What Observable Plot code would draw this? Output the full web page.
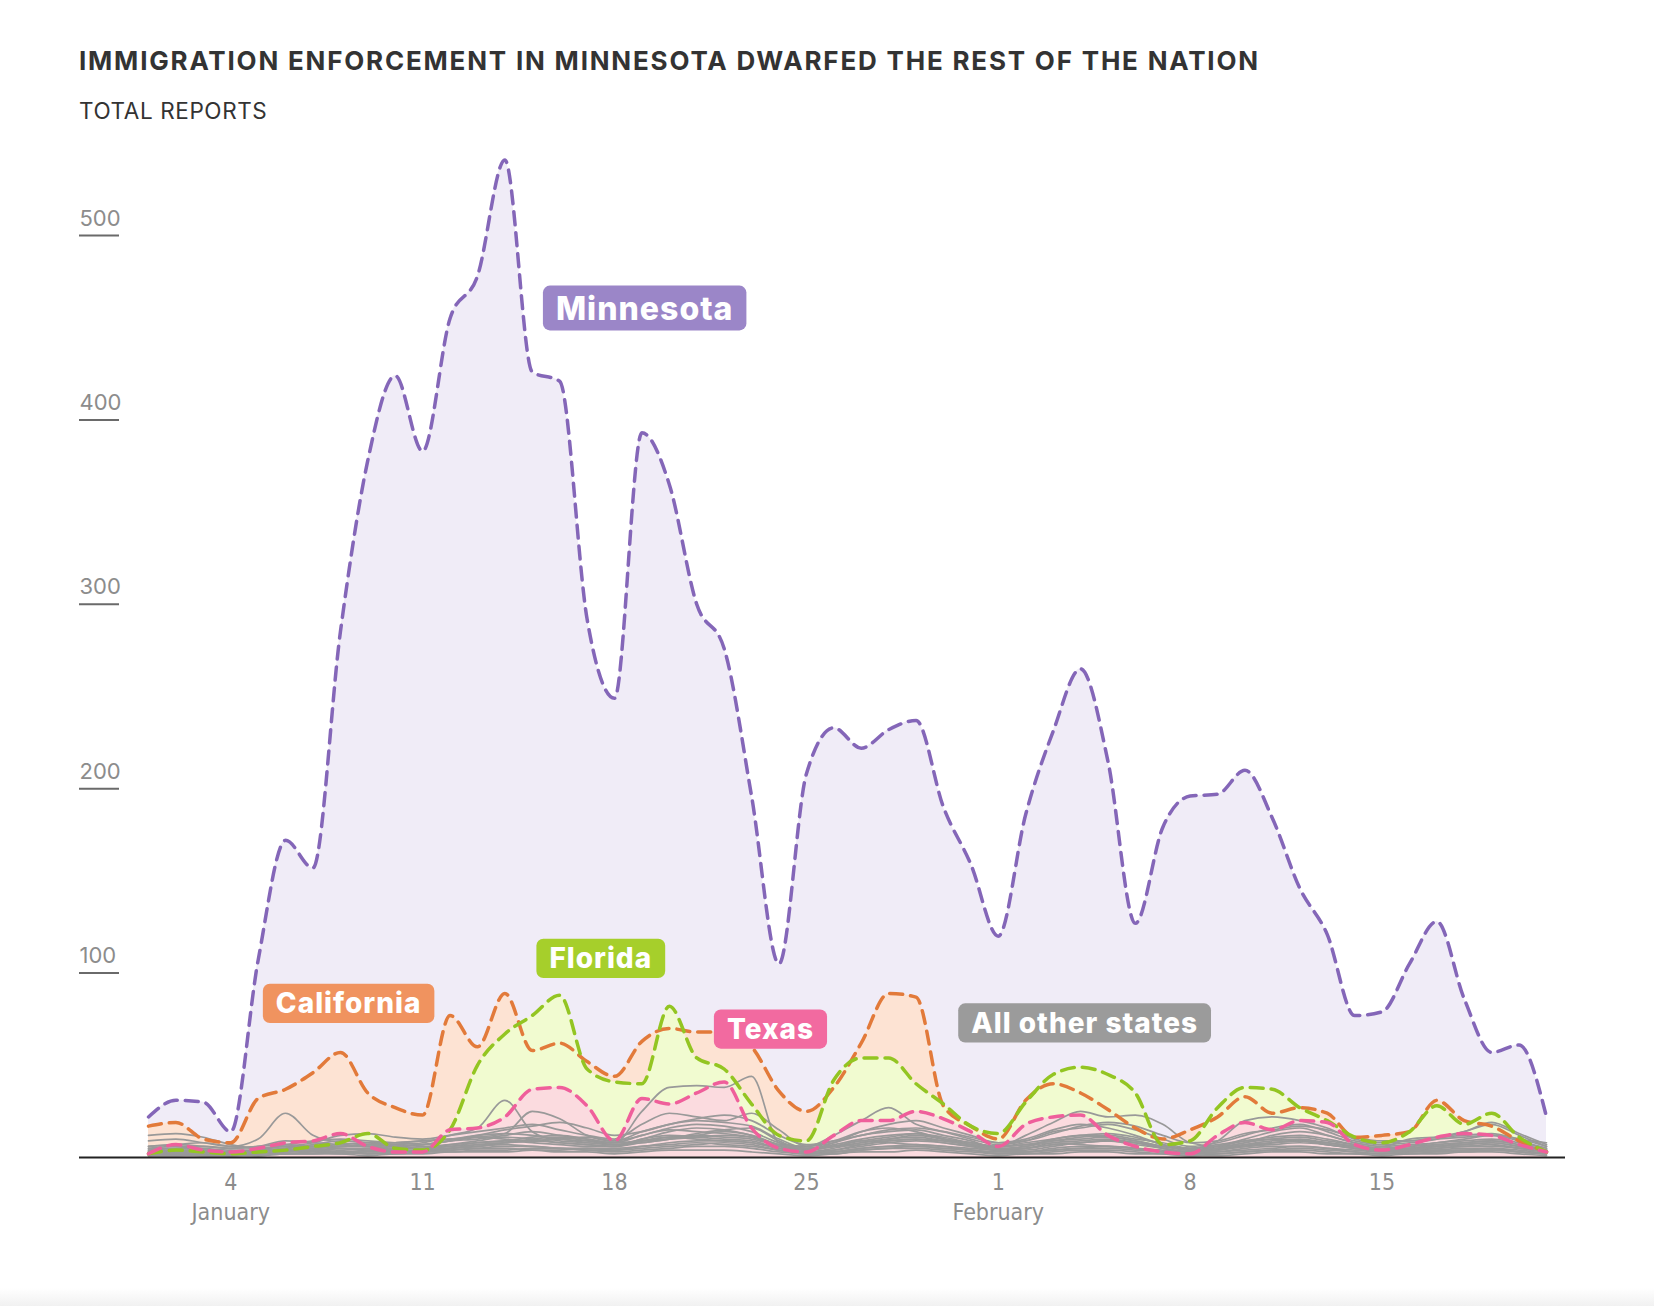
<!DOCTYPE html>
<html><head><meta charset="utf-8">
<script src="https://cdn.jsdelivr.net/npm/d3@7"></script>
<script src="https://cdn.jsdelivr.net/npm/@observablehq/plot@0.6"></script>
<style>
html,body{margin:0;padding:0;background:#fff;}
#wrap{position:relative;width:1654px;height:1306px;overflow:hidden;background:#fff;}
#title{position:absolute;left:79px;top:48px;font-family:Inter,"Noto Sans",sans-serif;font-weight:700;font-size:26px;line-height:1;letter-spacing:1.8px;color:#333;white-space:nowrap;}
#sub{position:absolute;left:79px;top:100px;font-family:Inter,"Noto Sans",sans-serif;font-size:22.5px;line-height:1;color:#333;letter-spacing:0.6px;white-space:nowrap;}
#chart{position:absolute;left:0;top:140px;}
#shade{position:absolute;left:0;bottom:0;width:1654px;height:18px;background:linear-gradient(#fff,#f1f1f1);}
.xlab text{font-stretch:condensed;}
.lbl text{letter-spacing:1px;}
</style></head><body>
<div id="wrap">
<div id="title">IMMIGRATION ENFORCEMENT IN MINNESOTA DWARFED THE REST OF THE NATION</div>
<div id="sub">TOTAL REPORTS</div>
<div id="chart"></div>
<div id="shade"></div>
</div>
<script>
// Daily totals, Jan 1 – Feb 21
const startDate = "2026-01-01";
const minnesota = [22,31,30,14,107,172,157,285,378,424,383,455,478,541,426,421,292,249,393,365,300,276,196,105,208,233,222,232,237,190,159,120,186,231,265,215,127,179,196,197,210,184,146,121,77,79,105,128,86,57,61,22];
const california = [17,19,10,8,32,37,46,57,35,27,23,77,60,89,58,62,52,44,63,70,68,68,60,36,25,38,62,89,87,28,17,10,31,40,35,26,16,10,15,22,33,24,27,24,11,12,14,31,20,17,9,3];
const florida = [2,4,3,2,3,4,6,8,13,5,4,15,50,67,77,88,48,41,40,82,54,48,29,12,9,42,54,54,40,29,17,13,30,45,49,45,35,7,9,27,38,37,27,20,11,8,14,28,18,24,11,3];
const texas = [2,7,4,3,5,8,9,13,6,3,3,15,16,22,37,38,28,9,32,29,35,41,16,5,3,12,20,20,25,21,14,6,18,22,23,12,6,3,2,12,19,15,20,19,7,4,7,11,13,12,7,3];
const otherStates = ["IL","NY","NJ","GA","NC","AZ","CO","WA","OR","PA","MA","OH","MI","VA","TN","LA","MD","NV"];
const otherValues = [
  [4,5,6,5,6,7,6,6,7,8,9,10,12,13,12,10,9,8,25,38,39,38,44,8,5,6,8,10,12,10,8,6,8,10,12,11,9,6,5,7,9,10,9,8,6,5,6,7,8,9,7,4],
  [6,7,6,5,6,9,8,7,6,7,8,12,16,31,14,9,8,7,10,14,16,15,12,7,6,9,14,16,14,10,7,6,12,19,25,22,23,18,8,6,8,12,14,12,8,6,7,8,10,12,9,5],
  [9,10,8,6,10,24,12,8,7,6,7,9,11,13,25,21,12,9,12,16,18,17,14,8,6,12,20,27,18,14,10,7,9,14,16,18,15,10,6,8,12,16,18,14,9,7,8,10,14,18,12,6],
  [12,13,11,7,5,6,8,12,13,11,10,12,14,16,18,15,12,10,18,24,22,20,24,15,6,8,14,18,20,16,12,8,10,15,18,16,12,7,5,9,20,22,20,16,10,8,9,11,14,19,13,7],
  [3,4,4,3,4,6,5,4,5,6,7,9,10,12,14,12,10,8,12,15,14,13,11,6,4,8,12,14,15,12,9,5,6,10,12,13,11,7,4,6,10,14,16,12,8,6,10,11,12,13,10,8],
  [5,6,5,4,4,5,6,7,8,8,9,10,11,10,9,10,11,9,14,18,20,19,17,10,5,7,10,12,13,11,8,6,7,9,11,12,10,8,5,6,9,11,12,10,7,5,6,8,9,10,8,5],
  [2,3,3,2,3,4,4,3,4,5,5,6,7,8,9,8,7,6,9,11,12,11,10,6,3,5,8,10,11,9,7,4,5,8,9,10,8,5,3,4,7,9,10,8,6,4,5,6,7,8,6,4],
  [4,3,2,2,3,5,6,5,4,3,4,5,6,8,10,11,9,7,8,10,12,14,12,7,4,6,9,8,7,6,5,4,6,8,7,6,5,4,3,5,6,8,9,7,5,4,5,7,8,7,5,3],
  [1,2,2,1,2,3,3,2,3,3,4,4,5,6,6,5,5,4,6,7,8,7,6,4,2,3,5,6,7,6,4,3,3,5,6,6,5,3,2,3,4,5,6,5,4,3,3,4,5,5,4,2],
  [3,3,4,3,3,4,5,6,6,5,5,6,8,9,8,7,6,6,10,12,11,10,9,5,3,4,7,9,10,8,6,4,5,7,8,9,8,5,3,4,6,8,9,7,5,4,4,5,6,7,5,3],
  [2,2,1,1,2,2,3,3,2,2,3,3,4,4,5,5,4,3,4,5,6,6,5,3,2,2,4,5,5,4,3,2,2,3,4,4,3,2,1,2,3,4,4,3,2,2,2,3,3,4,3,2],
  [1,1,2,2,1,2,2,3,3,4,3,4,5,5,4,4,5,5,6,8,9,9,8,5,2,3,4,5,6,5,4,2,3,4,5,5,4,3,2,3,5,6,6,5,3,2,3,4,4,5,3,2],
  [2,2,3,2,2,3,4,3,2,3,4,5,6,7,6,5,4,4,5,6,7,8,7,4,2,3,5,6,6,5,4,3,3,4,5,6,5,3,2,2,3,4,5,4,3,2,3,3,4,4,3,2],
  [1,1,1,1,1,2,2,2,1,2,2,3,3,3,4,3,3,2,3,4,4,4,3,2,1,2,3,3,4,3,2,1,2,2,3,3,2,2,1,1,2,3,3,2,2,1,2,2,3,3,2,1],
  [6,7,8,6,5,7,9,10,9,8,7,9,12,15,17,19,16,12,14,18,21,23,20,12,7,9,12,15,16,14,11,8,9,13,17,19,17,12,8,9,13,15,17,15,11,9,9,10,11,12,10,6],
  [3,4,3,3,4,5,7,9,8,6,5,7,9,11,10,8,7,6,8,10,13,15,16,9,4,6,9,11,13,10,8,6,7,9,10,11,9,6,4,5,8,10,11,9,7,5,5,6,8,9,7,4],
  [2,3,3,3,2,3,4,5,5,4,4,5,7,8,9,10,8,7,9,11,10,9,8,5,3,4,6,8,9,8,6,4,4,6,8,9,7,5,3,4,6,7,8,7,5,3,4,5,6,6,5,3],
  [5,5,4,3,3,4,5,6,7,7,6,7,8,9,11,12,10,8,9,10,11,12,11,7,5,6,7,9,10,9,7,5,5,7,8,9,8,6,4,5,7,8,9,8,6,4,4,6,7,8,6,4]
];
const yTicks = [100, 200, 300, 400, 500];
const xTickDates = ["2026-01-04","2026-01-11","2026-01-18","2026-01-25","2026-02-01","2026-02-08","2026-02-15"];
const xTickLabels = ["4\nJanuary","11","18","25","1\nFebruary","8","15"];
const labelNames = ["Minnesota","California","Florida","Texas","All other states"];
const labelDays = [18.1, 7.3, 16.5, 22.69, 34.15];
const labelValues = [460, 83, 107.4, 69.1, 72.4];
const labelColors = ["#9b86c8","#f0935f","#a6cf2b","#f26aa0","#9b9b9b"];

// ---- build tidy tables
const DAY = 864e5;
const t0 = new Date(startDate + "T00:00:00Z").getTime();
const dateOf = i => new Date(t0 + i * DAY);
const series = (arr, state) => arr.map((v, i) => ({date: dateOf(i), value: v, state}));
const mn = series(minnesota, "MN"), ca = series(california, "CA"), fl = series(florida, "FL"), tx = series(texas, "TX");
const others = otherValues.flatMap((arr, k) => series(arr, otherStates[k]));
const xTicks = xTickDates.map((d, i) => ({date: new Date(d + "T00:00:00Z"), label: xTickLabels[i]}));
const labels = labelNames.map((n, i) => ({name: n, date: new Date(t0 + labelDays[i] * DAY), value: labelValues[i], color: labelColors[i]}));

const curve = "monotone-x";
const dash = {x: "date", y: "value", curve, strokeWidth: 3.5, strokeDasharray: "13,8"};
const area = {x: "date", y: "value", curve};
const sansFont = "Inter, 'Noto Sans', sans-serif";
const condFont = "'Liberation Sans Narrow', 'DejaVu Sans Condensed', 'Roboto Condensed', 'Noto Sans', sans-serif";

const svg = Plot.plot({
  width: 1654, height: 1100,
  marginLeft: 148, marginRight: 108, marginTop: 95, marginBottom: 83,
  style: {fontFamily: sansFont, background: "transparent"},
  x: {type: "utc", domain: [dateOf(0), dateOf(51)], axis: null},
  y: {domain: [0, 500], axis: null},
  marks: [
    Plot.areaY(mn, {...area, fill: "#f0ecf7"}),
    Plot.areaY(ca, {...area, fill: "#fde3d3"}),
    Plot.areaY(fl, {...area, fill: "#f1fbd0"}),
    Plot.areaY(tx, {...area, fill: "#fbdbdf"}),
    Plot.lineY(others, {x: "date", y: "value", z: "state", curve, stroke: "#999", strokeWidth: 1.7}),
    Plot.lineY(ca, {...dash, stroke: "#e27a3a"}),
    Plot.lineY(fl, {...dash, stroke: "#93c522"}),
    Plot.lineY(tx, {...dash, stroke: "#ef5f9b"}),
    Plot.lineY(mn, {...dash, stroke: "#8466b8"}),
    Plot.ruleY([0], {stroke: "#222", strokeWidth: 2.2, insetLeft: -69, insetRight: -19}),
    Plot.ruleY(yTicks, {stroke: "#6a6a6a", strokeWidth: 2, insetLeft: -69, insetRight: 1427}),
    Plot.text(yTicks, {y: d => d, text: d => String(d), frameAnchor: "left", dx: -69, dy: -17, textAnchor: "start", fill: "#8c8c8c", fontSize: 22}),
    Plot.text(xTicks, {x: "date", text: "label", frameAnchor: "bottom", lineAnchor: "top", dy: 12, lineHeight: 1.28, fill: "#8c8c8c", fontSize: 23, fontFamily: condFont, className: "xlab"}),
    Plot.text(labels.slice(0, 1), {x: "date", y: "value", text: "name", fill: "white", fontWeight: 800, fontSize: 32, className: "lbl"}),
    Plot.text(labels.slice(1), {x: "date", y: "value", text: "name", fill: "white", fontWeight: 800, fontSize: 28, className: "lbl"})
  ]
});
document.getElementById("chart").append(svg);

// rounded boxes behind label texts
const colorByName = Object.fromEntries(labels.map(d => [d.name, d.color]));
svg.querySelectorAll("g.lbl text").forEach(t => {
  const b = t.getBBox();
  const fs = parseFloat(t.closest("g").getAttribute("font-size")) || 28;
  const padX = 13, h = fs * 1.4;
  const r = document.createElementNS("http://www.w3.org/2000/svg", "rect");
  const cy = b.y + b.height / 2;
  r.setAttribute("x", b.x - padX);
  r.setAttribute("y", cy - h / 2);
  r.setAttribute("width", b.width + 2 * padX);
  r.setAttribute("height", h);
  r.setAttribute("rx", 7);
  r.setAttribute("fill", colorByName[t.textContent]);
  if (t.getAttribute("transform")) r.setAttribute("transform", t.getAttribute("transform"));
  t.parentNode.insertBefore(r, t);
});
</script>
</body></html>
